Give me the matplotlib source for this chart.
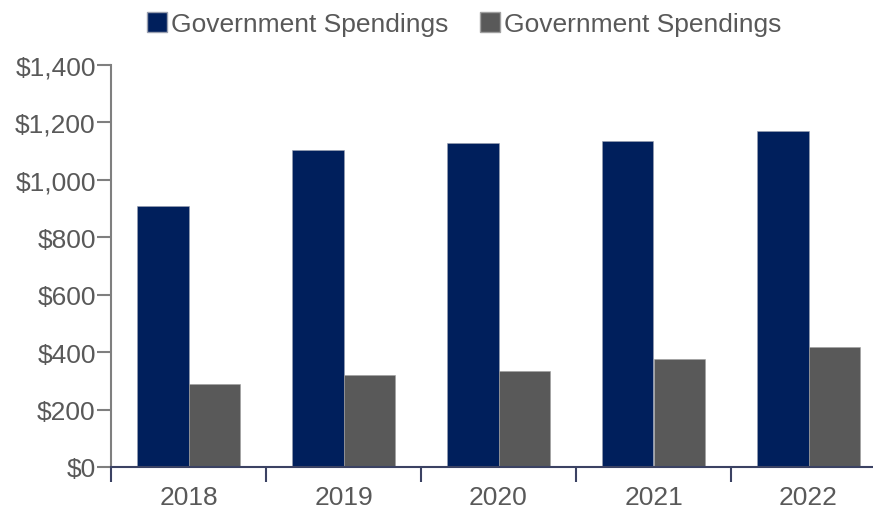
import numpy as np
import matplotlib
matplotlib.use('Agg')
import matplotlib.pyplot as plt
from matplotlib.patches import Patch
from matplotlib.ticker import FuncFormatter

# spending per year, two series
years = ['2018', '2019', '2020', '2021', '2022']
spend_a = [908, 1103, 1127, 1134, 1170]
spend_b = [288, 321, 334, 375, 418]
series_labels = ['Government Spendings', 'Government Spendings']
colors = ['#001f5c', '#595959']

plt.rcParams['font.family'] = ['Liberation Sans', 'DejaVu Sans']
txt_clr = '#595959'
fsize = 19

fig = plt.figure(figsize=(8.73, 5.10), dpi=100)
ax = fig.add_axes([111 / 873, 0.0824, 762 / 873, 0.7882])

x = np.arange(len(years))
width = 0.33
ax.bar(x - width / 2, spend_a, width, color=colors[0], edgecolor='#9aa0b0', linewidth=0.4)
ax.bar(x + width / 2, spend_b, width, color=colors[1], edgecolor='#a0a0a0', linewidth=0.4)

ax.set_xlim(-0.5, -0.5 + 762 / 155)
ax.set_ylim(0, 1400)
ax.set_yticks(np.arange(0, 1401, 200))
ax.yaxis.set_major_formatter(FuncFormatter(lambda v, p: '${:,.0f}'.format(v)))

# category boundaries get the tick marks, labels sit at the centres
ax.set_xticks(np.arange(-0.5, 4.0, 1.0))
ax.set_xticklabels([])
ax.set_xticks(x, minor=True)
ax.set_xticklabels(years, minor=True)
ax.tick_params(axis='x', which='major', length=11, width=1.5, color='#3b4263', direction='out')
ax.tick_params(axis='x', which='minor', length=0, pad=13, labelsize=fsize, labelcolor=txt_clr)
ax.tick_params(axis='y', length=10, width=1.5, color='#7f7f7f', pad=1, labelsize=fsize, labelcolor=txt_clr)

for s in ['top', 'right']:
    ax.spines[s].set_visible(False)
ax.spines['left'].set_color('#7f7f7f')
ax.spines['left'].set_linewidth(1.5)
ax.spines['bottom'].set_color('#3b4263')
ax.spines['bottom'].set_linewidth(1.5)

legend_elements = [Patch(facecolor=colors[0], edgecolor='#9aa0b0', label=series_labels[0]),
                   Patch(facecolor=colors[1], edgecolor='#a0a0a0', label=series_labels[1])]
fig.legend(handles=legend_elements, loc='upper center', bbox_to_anchor=(464 / 873, 1.0), ncol=2,
           frameon=False, fontsize=fsize, labelcolor=txt_clr, handlelength=0.75, handleheight=0.75,
           handletextpad=0.15, columnspacing=1.2, borderaxespad=0.1)

plt.savefig('out.png', dpi=100)
